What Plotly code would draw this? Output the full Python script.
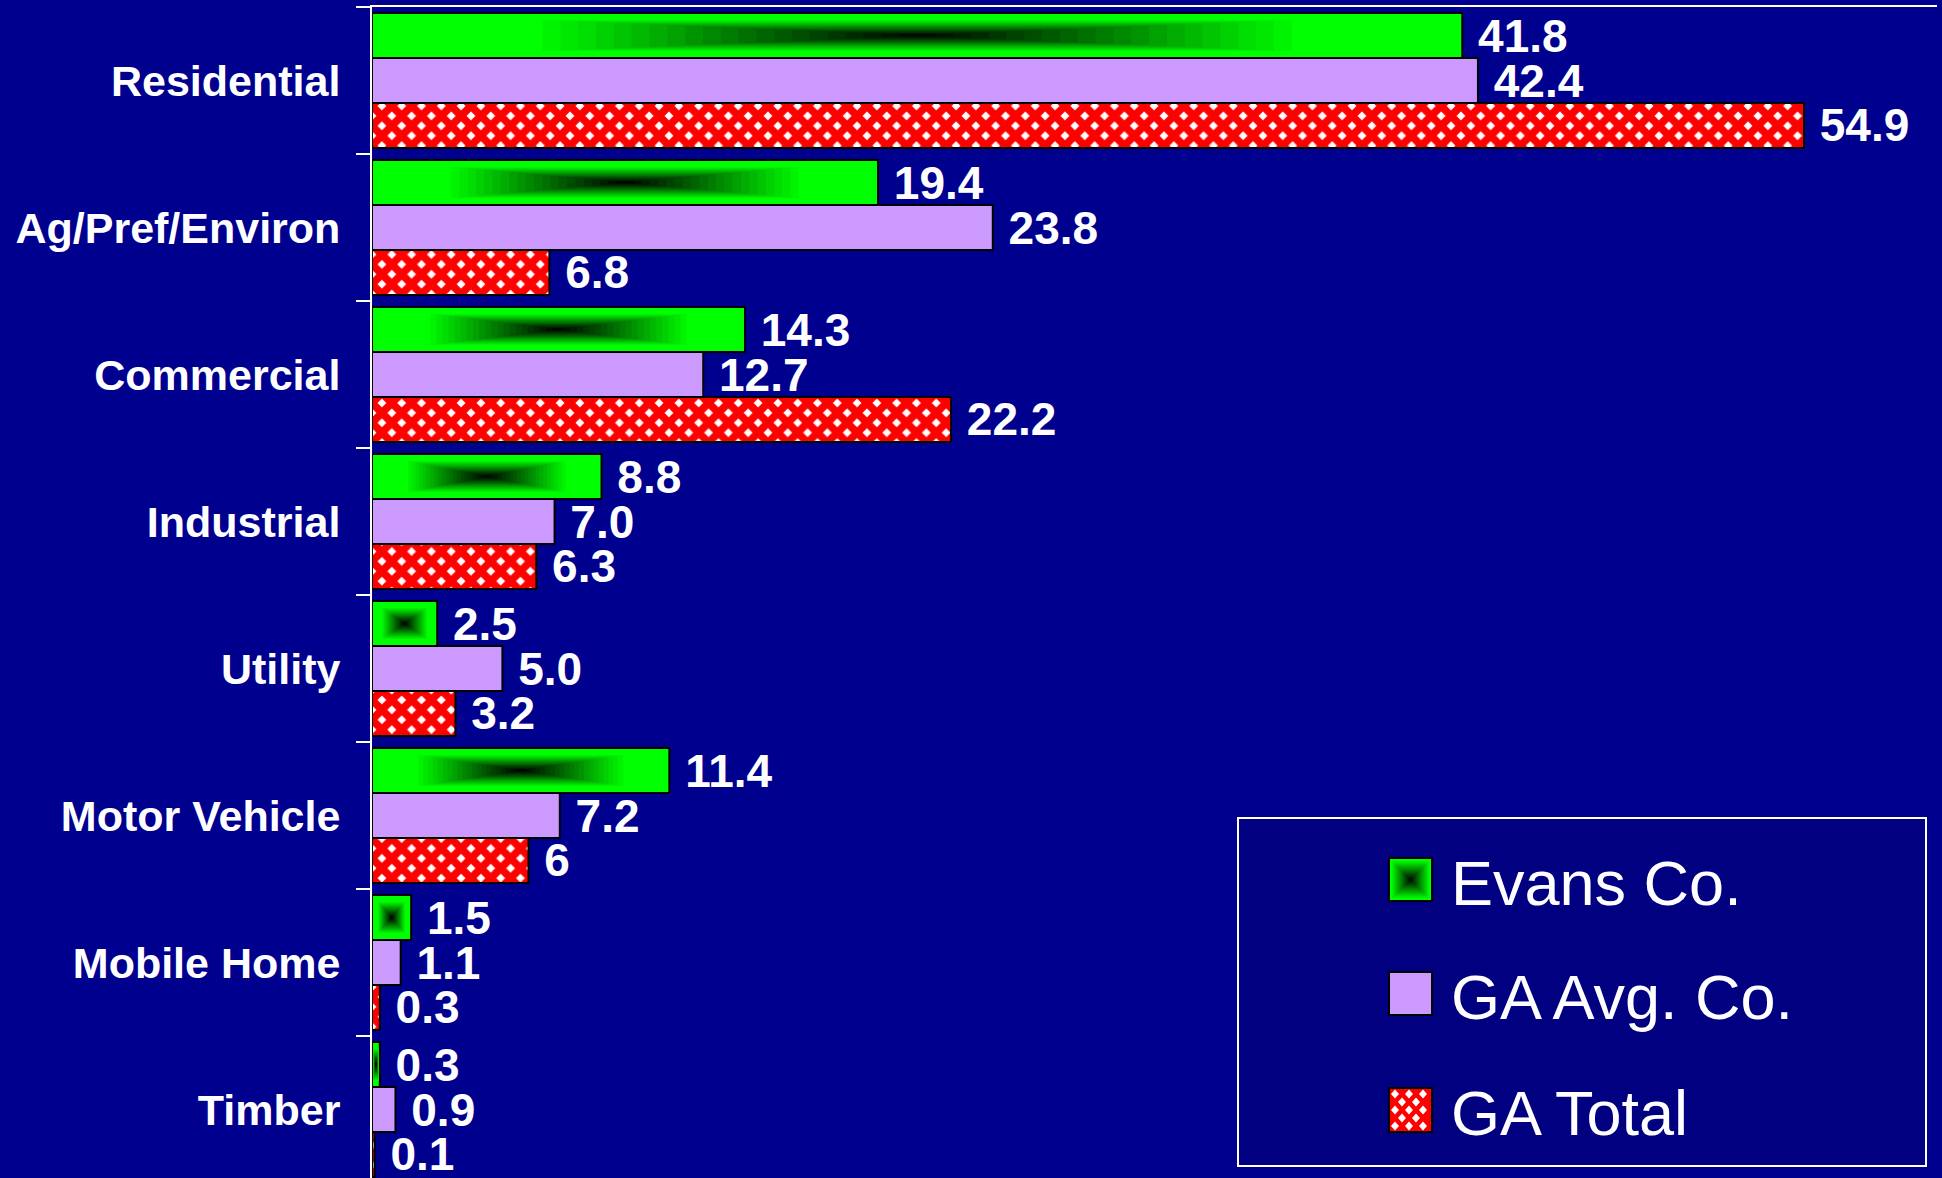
import plotly.graph_objects as go

# ---------------- data ----------------
categories = ["Residential", "Ag/Pref/Environ", "Commercial", "Industrial",
              "Utility", "Motor Vehicle", "Mobile Home", "Timber"]
series_names = ["Evans Co.", "GA Avg. Co.", "GA Total"]
evans = [41.8, 19.4, 14.3, 8.8, 2.5, 11.4, 1.5, 0.3]
ga_avg = [42.4, 23.8, 12.7, 7.0, 5.0, 7.2, 1.1, 0.9]
ga_total = [54.9, 6.8, 22.2, 6.3, 3.2, 6, 0.3, 0.1]
evans_labels = ["41.8", "19.4", "14.3", "8.8", "2.5", "11.4", "1.5", "0.3"]
ga_avg_labels = ["42.4", "23.8", "12.7", "7.0", "5.0", "7.2", "1.1", "0.9"]
ga_total_labels = ["54.9", "6.8", "22.2", "6.3", "3.2", "6", "0.3", "0.1"]

# ---------------- geometry / style ----------------
W, H = 1942, 1178
L, R, T, B = 372, 5, 7, 0
BG = "#00008F"
LEG_BG = "#000080"
GREEN = "#00FF00"
PURPLE = "#CC99FF"
RED = "#FF0000"
FONT = "Liberation Sans, Arial, sans-serif"

cat_px = 147.0
plot_h = H - T - B
n_vis = plot_h / cat_px
bar_w = 0.306
offsets = [-0.459, -0.153, 0.153]

fig = go.Figure()

def lab(lst):
    return ["\u00a0" + s for s in lst]

txtfont = dict(family=FONT, size=46, color="white", weight="bold")

common = dict(orientation="h", textposition="outside", constraintext="none",
              cliponaxis=False, textfont=txtfont, showlegend=False)

fig.add_bar(y=categories, x=evans, name=series_names[0], text=lab(evans_labels),
            width=bar_w, offset=offsets[0],
            marker=dict(color=GREEN, line=dict(color="black", width=2)), **common)
fig.add_bar(y=categories, x=ga_avg, name=series_names[1], text=lab(ga_avg_labels),
            width=bar_w, offset=offsets[1],
            marker=dict(color=PURPLE, line=dict(color="black", width=2)), **common)
fig.add_bar(y=categories, x=ga_total, name=series_names[2], text=lab(ga_total_labels),
            width=bar_w, offset=offsets[2],
            marker=dict(color=RED, line=dict(color="black", width=2),
                        pattern=dict(shape="x", fgcolor=RED, bgcolor="white",
                                     size=14, solidity=0.8, fillmode="replace")),
            **common)

# rectangular gradient overlay (green -> black at centre) on Evans bars
center = offsets[0] + bar_w / 2
n_lev = 22
fmax = 0.72
for i in range(n_lev):
    f = fmax * (1 - i / n_lev)
    g = max(0.0, min(1.0, (f - fmax / n_lev * 0.5) / 0.7))
    col = "rgb(0,%d,0)" % int(round(255 * g))
    fig.add_bar(y=categories, x=[v * f for v in evans],
                base=[v * (1 - f) / 2 for v in evans],
                orientation="h", width=bar_w * f, offset=center - bar_w * f / 2,
                marker=dict(color=col, line=dict(width=0)),
                hoverinfo="skip", showlegend=False)

# ---------------- custom legend ----------------
def px(x):
    return (x - L) / (W - L - R)

def py(y):
    return (H - B - y) / plot_h

shapes = []
shapes.append(dict(type="rect", xref="paper", yref="paper",
                   x0=px(1238), x1=px(1926), y0=py(1166), y1=py(818),
                   line=dict(color="white", width=2), fillcolor=LEG_BG, layer="above"))

sw_x0, sw_x1 = 1389, 1432
rows = [(858, 901), (972, 1015), (1088, 1132)]

# green swatch with rectangular gradient
gx0, gx1 = sw_x0, sw_x1
gy0, gy1 = rows[0]
shapes.append(dict(type="rect", xref="paper", yref="paper",
                   x0=px(gx0), x1=px(gx1), y0=py(gy1), y1=py(gy0),
                   line=dict(color="black", width=2), fillcolor=GREEN, layer="above"))
cx, cy = (gx0 + gx1) / 2, (gy0 + gy1) / 2
hw, hh = (gx1 - gx0) / 2 - 1, (gy1 - gy0) / 2 - 1
n_sw = 16
for i in range(n_sw):
    f = 0.95 * (1 - i / n_sw)
    g = max(0.0, min(1.0, f / 0.95))
    col = "rgb(0,%d,0)" % int(round(255 * g))
    shapes.append(dict(type="rect", xref="paper", yref="paper",
                       x0=px(cx - hw * f), x1=px(cx + hw * f),
                       y0=py(cy + hh * f), y1=py(cy - hh * f),
                       line=dict(width=0), fillcolor=col, layer="above"))

# purple swatch
shapes.append(dict(type="rect", xref="paper", yref="paper",
                   x0=px(sw_x0), x1=px(sw_x1), y0=py(rows[1][1]), y1=py(rows[1][0]),
                   line=dict(color="black", width=2), fillcolor=PURPLE, layer="above"))

# red swatch with white diamonds
ry0, ry1 = rows[2]
shapes.append(dict(type="rect", xref="paper", yref="paper",
                   x0=px(sw_x0), x1=px(sw_x1), y0=py(ry1), y1=py(ry0),
                   line=dict(color="black", width=2), fillcolor=RED, layer="above"))
path = ""
r = 0
yy = ry0 + 6
while yy < ry1 - 3:
    xx = sw_x0 + 6 + (r % 2) * 7
    while xx < sw_x1 - 3:
        path += "M%f,%f L%f,%f L%f,%f L%f,%f Z " % (
            px(xx - 4), py(yy), px(xx), py(yy - 4.5),
            px(xx + 4), py(yy), px(xx), py(yy + 4.5))
        xx += 14
    yy += 8
    r += 1
shapes.append(dict(type="path", xref="paper", yref="paper", path=path,
                   line=dict(width=0), fillcolor="white", layer="above"))

annotations = []
for name, (a, b) in zip(series_names, rows):
    annotations.append(dict(xref="paper", yref="paper", x=px(1449), y=py((a + b) / 2 + 3),
                            xanchor="left", yanchor="middle", showarrow=False,
                            text=name, font=dict(family=FONT, size=63, color="white")))

fig.update_layout(
    width=W, height=H,
    margin=dict(l=L, r=R, t=T, b=B, pad=0),
    paper_bgcolor=BG, plot_bgcolor=BG,
    barmode="overlay",
    showlegend=False,
    shapes=shapes,
    annotations=annotations,
    xaxis=dict(range=[0, 60], side="top", showline=True, linecolor="white", linewidth=2,
               showticklabels=False, showgrid=False, zeroline=False, ticks="", fixedrange=True),
    yaxis=dict(type="category", categoryorder="array", categoryarray=categories,
               range=[-0.5 + n_vis, -0.5], showline=True, linecolor="white", linewidth=2,
               ticks="outside", ticklen=14, tickwidth=2, tickcolor="white",
               tickson="boundaries", showgrid=False, zeroline=False,
               ticklabelstandoff=21,
               tickfont=dict(family=FONT, size=43, color="white", weight="bold")),
)

fig.write_html("out.html", config={"displayModeBar": False},
               post_script="document.body.style.margin='0';document.body.style.overflow='hidden';")
